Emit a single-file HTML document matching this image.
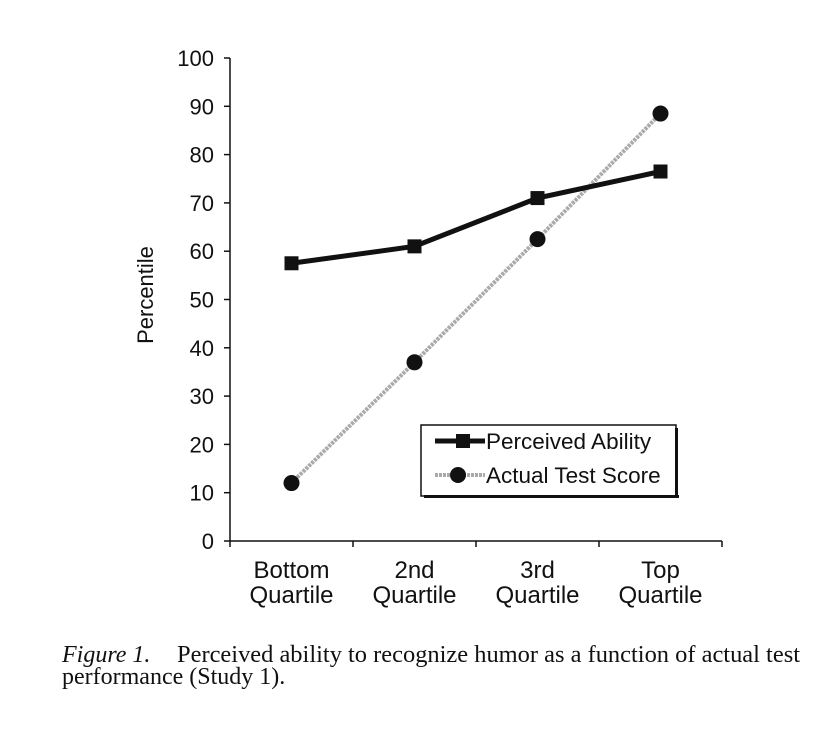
<!DOCTYPE html>
<html><head><meta charset="utf-8"><style>
body{margin:0;background:#fff;width:834px;height:731px;overflow:hidden}
svg{display:block}
.t{font-family:"Liberation Sans",sans-serif;font-size:22px;fill:#111}
.x{font-family:"Liberation Sans",sans-serif;font-size:24px;fill:#111}
.l{font-family:"Liberation Sans",sans-serif;font-size:22.5px;fill:#111}
.c{font-family:"Liberation Serif",serif;font-size:24px;fill:#111}
</style></head><body>
<svg id="chart" width="834" height="731">
<text class="t" x="153" y="295" text-anchor="middle" transform="rotate(-90 153 295)">Percentile</text>
<g id="g"></g>
<text class="c" x="62" y="662" font-style="italic">Figure 1.</text>
<text class="c" x="177" y="662" textLength="623" lengthAdjust="spacingAndGlyphs">Perceived ability to recognize humor as a function of actual test</text>
<text class="c" x="62" y="684">performance (Study 1).</text>
</svg>
<script>
const categories=[["Bottom","Quartile"],["2nd","Quartile"],["3rd","Quartile"],["Top","Quartile"]];
const perceived=[57.5,61,71,76.5];
const actual=[12,37,62.5,88.5];
const yTicks=[0,10,20,30,40,50,60,70,80,90,100];
const NS="http://www.w3.org/2000/svg";
const g=document.getElementById('g');
const x0=230,x1=722,yb=541,yt=58;
const bw=(x1-x0)/categories.length;
const X=i=>x0+bw*(i+0.5);
const Y=v=>yb-(v/100)*(yb-yt);
function mk(t,a){const e=document.createElementNS(NS,t);for(const k in a)e.setAttribute(k,a[k]);g.appendChild(e);return e;}
let e=mk('line',{x1:x0,y1:yt,x2:x0,y2:yb,stroke:'#111','stroke-width':1.5});


e=mk('line',{x1:x0,y1:yb,x2:x1,y2:yb,stroke:'#111','stroke-width':1.5});


yTicks.forEach(v=>{
 mk('line',{x1:x0-6,y1:Y(v),x2:x0,y2:Y(v),stroke:'#111','stroke-width':1.5});
 const t=mk('text',{x:x0-16,y:Y(v)+8,'text-anchor':'end',class:'t'});t.textContent=v;
 
 
});
for(let i=0;i<=categories.length;i++)mk('line',{x1:x0+bw*i,y1:yb,x2:x0+bw*i,y2:yb+6,stroke:'#111','stroke-width':1.5});
categories.forEach((c,i)=>{
 c.forEach((s,j)=>{const t=mk('text',{x:X(i),y:578+j*25,'text-anchor':'middle',class:'x'});t.textContent=s;
 
 });
});
e=mk('polyline',{points:actual.map((v,i)=>X(i)+','+Y(v)).join(' '),fill:'none',stroke:'#aaa','stroke-width':4,'stroke-dasharray':'3 1'});


e=mk('polyline',{points:perceived.map((v,i)=>X(i)+','+Y(v)).join(' '),fill:'none',stroke:'#111','stroke-width':5});


perceived.forEach((v,i)=>{const r=mk('rect',{x:X(i)-7,y:Y(v)-7,width:14,height:14,fill:'#111'});
 
 });
actual.forEach((v,i)=>{const c=mk('circle',{cx:X(i),cy:Y(v),r:8,fill:'#111'});
 
 });
e=mk('rect',{x:421,y:425,width:255,height:71,fill:'#fff',stroke:'#111','stroke-width':1.5});


mk('rect',{x:424,y:495,width:255,height:3,fill:'#111'});
mk('rect',{x:675,y:428,width:3,height:70,fill:'#111'});
mk('line',{x1:435,y1:441,x2:485,y2:441,stroke:'#111','stroke-width':5});
mk('rect',{x:456,y:434,width:14,height:14,fill:'#111'});
let t=mk('text',{x:486,y:449,class:'l'});t.textContent='Perceived Ability';


mk('line',{x1:435,y1:475,x2:485,y2:475,stroke:'#aaa','stroke-width':4,'stroke-dasharray':'3 1'});
mk('circle',{cx:458,cy:475,r:8,fill:'#111'});
t=mk('text',{x:486,y:483,class:'l'});t.textContent='Actual Test Score';


</script>
</body></html>
